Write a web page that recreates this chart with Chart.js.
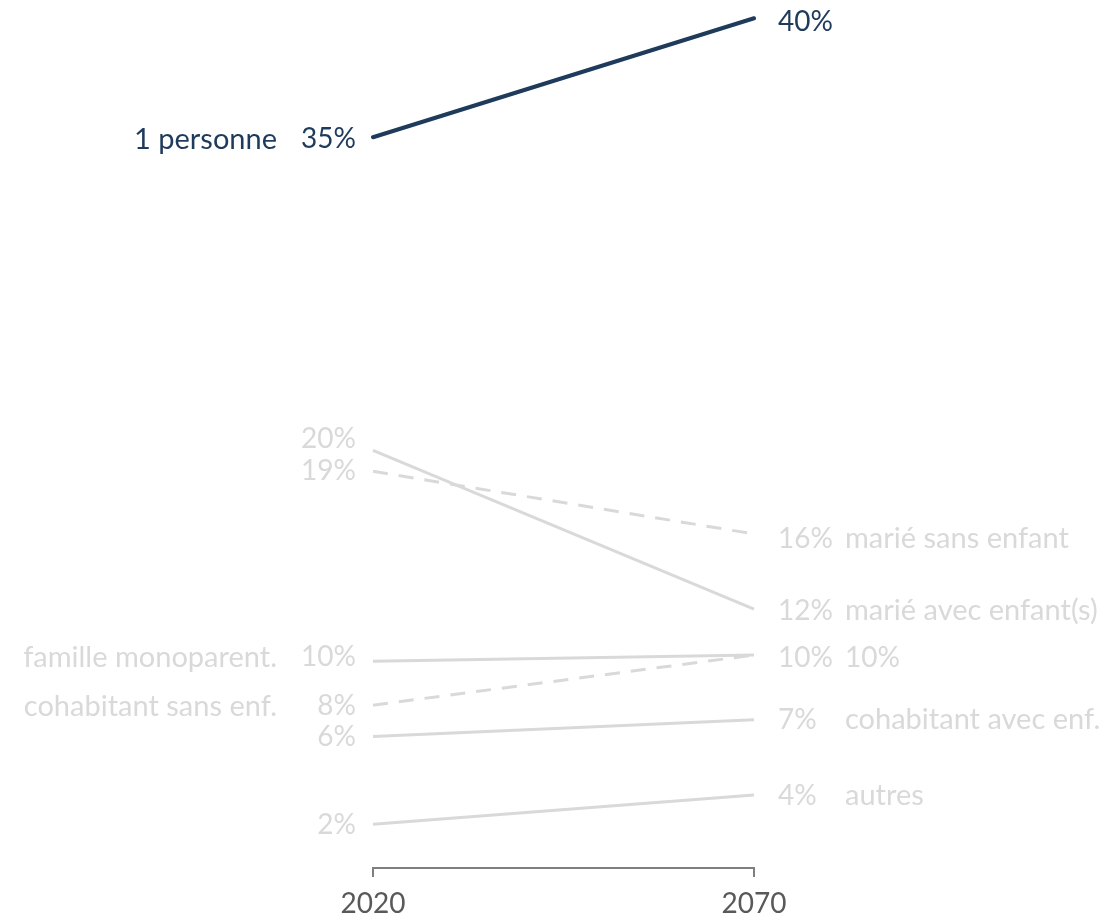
<!DOCTYPE html>
<html lang="fr">
<head>
    <meta charset="UTF-8">
    <title>Ménages 2020 - 2070</title>
    <script src="https://cdn.jsdelivr.net/npm/chart.js"></script>
    <style>
        html, body { margin: 0; padding: 0; background: #fff; }
        #wrap { width: 1114px; height: 916px; }
    </style>
</head>
<body>
    <div id="wrap"><canvas id="chart" width="1114" height="916"></canvas></div>

    <script>
        // data
        const years = ['2020', '2070'];
        const series = ['1 personne', 'marié avec enfant(s)', 'marié sans enfant', 'famille monoparent.',
            'cohabitant sans enf.', 'cohabitant avec enf.', 'autres'];
        const v2020 = [35.0, 20.0, 19.0, 9.9, 7.8, 6.3, 2.1];
        const v2070 = [40.7, 12.4, 16.0, 10.2, 10.2, 7.1, 3.5];
        const pct2020 = ['35%', '20%', '19%', '10%', '8%', '6%', '2%'];
        const pct2070 = ['40%', '12%', '16%', '10%', '', '7%', '4%'];
        const leftNames = ['1 personne', '', '', 'famille monoparent.', 'cohabitant sans enf.', '', ''];
        const rightNames = ['', 'marié avec enfant(s)', 'marié sans enfant', '', '10%', 'cohabitant avec enf.', 'autres'];
        const dashed = [false, false, true, false, true, false, false];

        const NAVY = '#1f3b5c';
        const GREY = '#d9d9d9';
        const FONT = 'Lato, "Open Sans", sans-serif';

        // small nudges so labels don't collide (px)
        const leftNudge = [2, -11, 0, -4, 1, 1, 1];
        const rightNudge = [4, 2, 5, 3, 3, 0, 1];

        const slopeLabels = {
            id: 'slopeLabels',
            afterDatasetsDraw(chart) {
                const ctx = chart.ctx;
                ctx.save();
                ctx.textBaseline = 'middle';
                chart.data.datasets.forEach((ds, i) => {
                    const pts = chart.getDatasetMeta(i).data;
                    const a = pts[0], b = pts[1];
                    ctx.fillStyle = i === 0 ? NAVY : GREY;

                    ctx.textAlign = 'right';
                    ctx.font = '28px ' + FONT;
                    ctx.fillText(pct2020[i], a.x - 17, a.y + leftNudge[i]);
                    ctx.font = '29px ' + FONT;
                    ctx.fillText(leftNames[i], a.x - 96, a.y + leftNudge[i]);

                    ctx.textAlign = 'left';
                    ctx.font = '28px ' + FONT;
                    ctx.fillText(pct2070[i], b.x + 24, b.y + rightNudge[i]);
                    ctx.font = (i === 4 ? '28px ' : '29px ') + FONT;
                    ctx.fillText(rightNames[i], b.x + 91, b.y + rightNudge[i]);
                });
                ctx.restore();
            }
        };

        const datasets = series.map((name, i) => ({
            label: name,
            data: [v2020[i], v2070[i]],
            borderColor: i === 0 ? NAVY : GREY,
            borderWidth: i === 0 ? 4 : 3,
            borderDash: dashed[i] ? [15, 11] : [],
            borderCapStyle: i === 0 ? 'round' : 'butt',
            pointRadius: 0,
            tension: 0,
            order: i === 0 ? 0 : 1
        }));

        new Chart(document.getElementById('chart'), {
            type: 'line',
            data: { labels: years, datasets: datasets },
            options: {
                responsive: false,
                animation: false,
                layout: { padding: { left: 373, right: 360, top: 12, bottom: -15 } },
                plugins: {
                    legend: { display: false },
                    tooltip: { enabled: false }
                },
                scales: {
                    x: {
                        offset: false,
                        grid: {
                            display: true,
                            drawOnChartArea: false,
                            drawTicks: true,
                            tickLength: 9,
                            color: '#7f7f7f',
                            lineWidth: 2
                        },
                        border: { display: true, color: '#7f7f7f', width: 2 },
                        ticks: {
                            color: '#595959',
                            padding: 13,
                            maxRotation: 0,
                            font: { family: FONT, size: 28, lineHeight: 1 }
                        }
                    },
                    y: {
                        display: false,
                        min: 0,
                        max: 41
                    }
                }
            },
            plugins: [slopeLabels]
        });
    </script>
</body>
</html>
